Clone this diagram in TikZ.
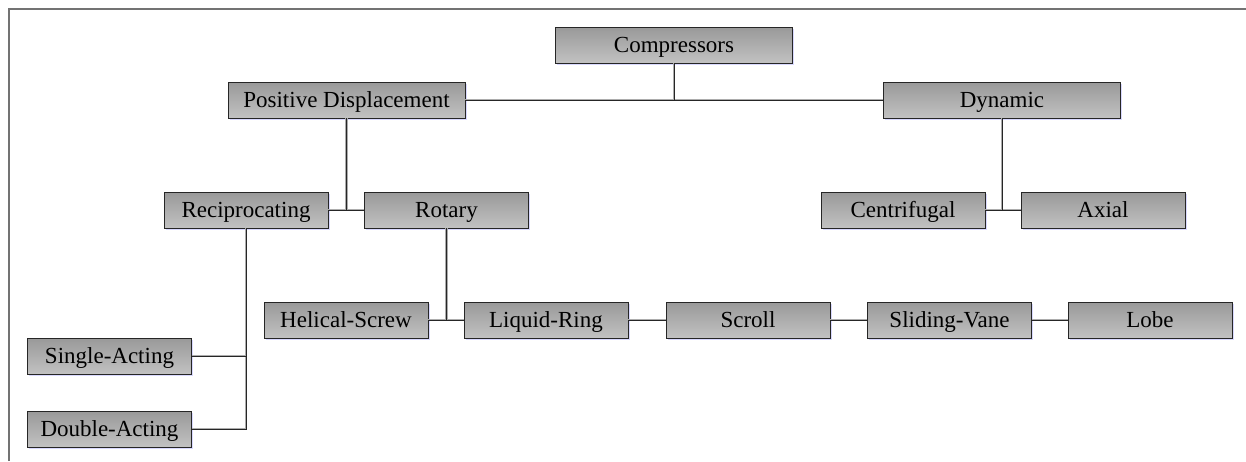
\documentclass[tikz,border=0pt]{standalone}
\usepackage{fontspec}
\setmainfont{Liberation Serif}
\usetikzlibrary{shadows}
\begin{document}
\begin{tikzpicture}[x=1pt,y=-1pt,
  box/.style={draw=black!85, line width=0.8pt, shading=axis,
    top color=gray!80, bottom color=gray!48,
    minimum width=164pt, minimum height=36pt, inner sep=0pt,
    text height=18pt, text depth=4pt,
    font=\fontsize{23}{27}\selectfont,
    drop shadow={shadow xshift=1.8pt, shadow yshift=-2.2pt, fill=blue!15, opacity=1}},
  widebox/.style={box, minimum width=237pt},
  conn/.style={draw=black!85, line width=0.8pt,
    preaction={draw=gray!65, line width=2.6pt}}]
  \useasboundingbox (0,0) rectangle (1246,461);
  % outer frame
  \draw[black!55, line width=2pt] (9,461) -- (9,9) -- (1246,9);

  % boxes
  \node[widebox] (comp)    at (674,45)    {Compressors};
  \node[widebox] (pd)      at (346.5,100) {Positive Displacement};
  \node[widebox] (dyn)     at (1002,100)  {Dynamic};
  \node[box]     (recip)   at (246,210)   {Reciprocating};
  \node[box]     (rot)     at (446.5,210) {Rotary};
  \node[box]     (cent)    at (903,210)   {Centrifugal};
  \node[box]     (axial)   at (1103,210)  {Axial};
  \node[box]     (helical) at (346,320)   {Helical-Screw};
  \node[box]     (liquid)  at (546,320)   {Liquid-Ring};
  \node[box]     (scroll)  at (748,320)   {Scroll};
  \node[box]     (sliding) at (949.5,320) {Sliding-Vane};
  \node[box]     (lobe)    at (1150,320)  {Lobe};
  \node[box]     (single)  at (109.5,356) {Single-Acting};
  \node[box]     (double)  at (109.5,429) {Double-Acting};

  % connectors
  \draw[conn] (pd.east) -- (dyn.west);
  \draw[conn] (comp.south) -- (comp.south |- pd.east);
  \draw[conn] (recip.east) -- (rot.west);
  \draw[conn] (pd.south) -- (pd.south |- recip.east);
  \draw[conn] (cent.east) -- (axial.west);
  \draw[conn] (dyn.south) -- (dyn.south |- cent.east);
  \draw[conn] (helical.east) -- (liquid.west);
  \draw[conn] (rot.south) -- (rot.south |- helical.east);
  \draw[conn] (liquid.east) -- (scroll.west);
  \draw[conn] (scroll.east) -- (sliding.west);
  \draw[conn] (sliding.east) -- (lobe.west);
  \draw[conn] (recip.south) -- (recip.south |- double.east) -- (double.east);
  \draw[conn] (single.east) -- (single.east -| recip.south);
\end{tikzpicture}
\end{document}
